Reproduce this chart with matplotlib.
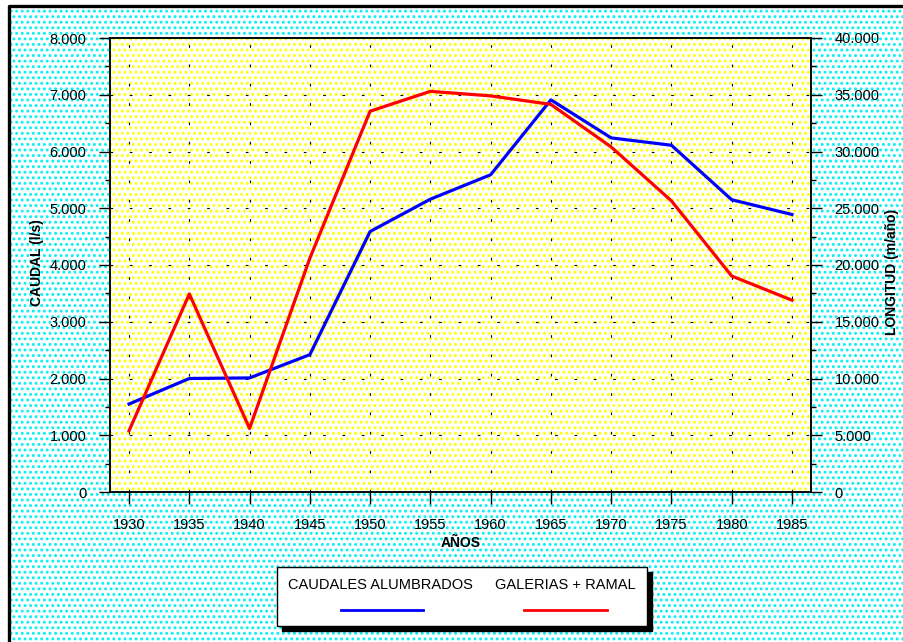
import numpy as np
import matplotlib
matplotlib.use('Agg')
import matplotlib.pyplot as plt
from matplotlib.patches import Rectangle
from matplotlib.lines import Line2D
from matplotlib.ticker import MultipleLocator, FuncFormatter

plt.rcParams['font.family'] = ['Liberation Sans', 'DejaVu Sans']
plt.rcParams['hatch.linewidth'] = 1.3

# data
years = [1930, 1935, 1940, 1945, 1950, 1955, 1960, 1965, 1970, 1975, 1980, 1985]
caudal = [1550, 2000, 2010, 2420, 4590, 5160, 5590, 6910, 6240, 6110, 5150, 4890]
longitud = [5400, 17450, 5600, 20600, 33550, 35300, 34900, 34150, 30400, 25650, 19030, 16900]

W, H = 904, 642
fig = plt.figure(figsize=(W / 100, H / 100), dpi=100)

def fx(px):
    return px / W

def fy(py):
    return 1 - py / H

# dotted cyan background and black frame on the left/top
bg = Rectangle((fx(10), 0), 1 - fx(10), fy(7), transform=fig.transFigure,
               facecolor='white', edgecolor='#00f0f4', hatch='...', linewidth=0, zorder=-10)
fig.patches.append(bg)
fig.add_artist(Line2D([fx(9), fx(9), 1], [0, fy(6), fy(6)], color='black', lw=2.4))

ax = fig.add_axes([fx(110), fy(492), fx(811) - fx(110), fy(38) - fy(492)])
ax.patch.set_facecolor('white')
ax.patch.set_edgecolor('#ffff00')
ax.patch.set_hatch('...')
ax2 = ax.twinx()

ax.plot(years, caudal, color='#0000ff', lw=2.3, zorder=5)
ax2.plot(years, longitud, color='#ff0000', lw=2.3, zorder=5)

ax.set_xlim(1928.42, 1986.58)
ax.set_ylim(0, 8000)
ax2.set_ylim(0, 40000)

ax.set_xticks(years)
ax.yaxis.set_major_locator(MultipleLocator(1000))
ax.yaxis.set_minor_locator(MultipleLocator(500))
ax2.yaxis.set_major_locator(MultipleLocator(5000))
ax2.yaxis.set_minor_locator(MultipleLocator(2500))

fmt = FuncFormatter(lambda v, p: f'{int(v):,}'.replace(',', '.'))
ax.yaxis.set_major_formatter(fmt)
ax2.yaxis.set_major_formatter(fmt)

for a in (ax, ax2):
    a.tick_params(which='major', direction='out', length=8, width=1, labelsize=10.5, pad=9)
    a.tick_params(which='minor', direction='out', length=3.8, width=1)
    for s in a.spines.values():
        s.set_linewidth(1.1)
ax.tick_params(axis='x', length=8.5, pad=10)

ax.grid(True, which='major', color='black', lw=0.8, ls=(0, (2.4, 15)))

ax.set_ylabel('CAUDAL (l/s)', fontsize=10, fontweight='bold')
ax.yaxis.set_label_coords(-0.094, 0.505)
ax2.set_ylabel('LONGITUD (m/año)', fontsize=10, fontweight='bold', rotation=90)
ax2.yaxis.set_label_coords(1.105, 0.485)
ax.set_xlabel('AÑOS', fontsize=10, fontweight='bold')
ax.xaxis.set_label_coords(0.5, -0.097)

# legend box with shadow
shadow = Rectangle((fx(282), fy(631)), fx(647) - fx(277), fy(567) - fy(626),
                   transform=fig.transFigure, facecolor='black', edgecolor='black', zorder=3)
box = Rectangle((fx(277), fy(626)), fx(647) - fx(277), fy(567) - fy(626),
                transform=fig.transFigure, facecolor='white', edgecolor='black', lw=1, zorder=4)
fig.add_artist(shadow)
fig.add_artist(box)
fig.text(fx(288), fy(585), 'CAUDALES ALUMBRADOS', fontsize=10.5, va='center', ha='left', zorder=5)
fig.text(fx(495), fy(585), 'GALERIAS + RAMAL', fontsize=10.5, va='center', ha='left', zorder=5)
fig.add_artist(Line2D([fx(341), fx(423)], [fy(610), fy(610)], color='#0000ff', lw=2, zorder=5))
fig.add_artist(Line2D([fx(524), fx(607)], [fy(610), fy(610)], color='#ff0000', lw=2, zorder=5))

fig.savefig('out.png', dpi=100)
